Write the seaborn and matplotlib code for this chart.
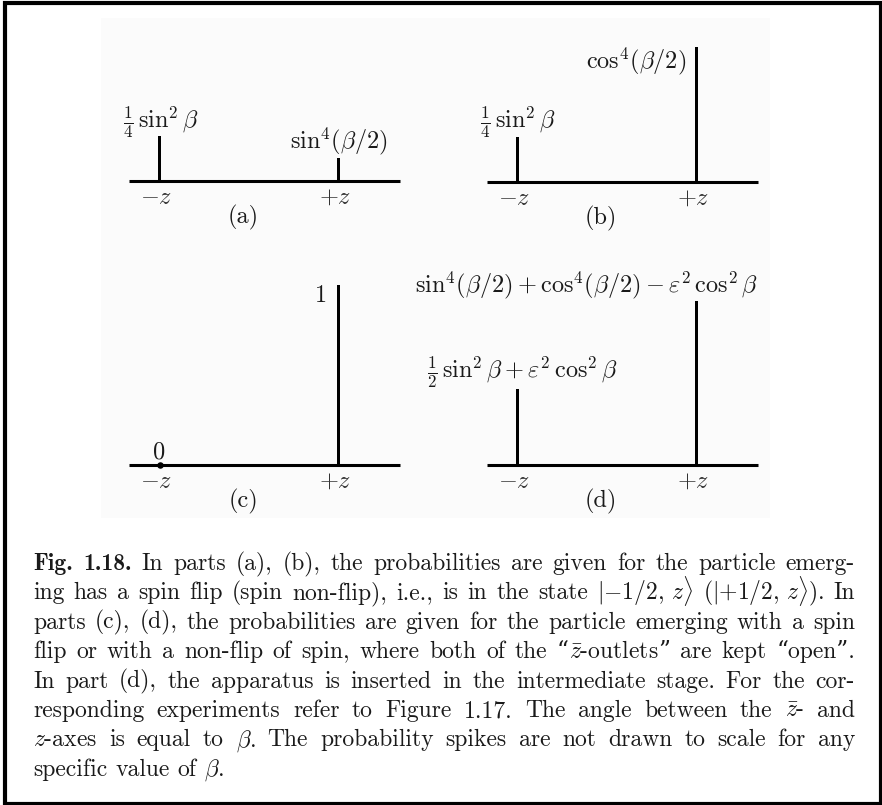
import matplotlib
matplotlib.use("Agg")
import matplotlib.pyplot as plt
import matplotlib.patches as mpatches
import matplotlib.transforms as mtransforms
import seaborn as sns
import pandas as pd

# ---- data -----------------------------------------------------------------
outlets = ["$-z$", "$+z$"]

spike_a = [0.25, 0.13]
spike_b = [0.25, 0.75]
spike_c = [0.0, 1.0]
spike_d = [0.42, 0.91]

labels_a = [r"$\frac{1}{4}\,\mathrm{sin}^2\,\beta$", r"$\mathrm{sin}^4(\beta/2)$"]
labels_b = [r"$\frac{1}{4}\,\mathrm{sin}^2\,\beta$", r"$\mathrm{cos}^4(\beta/2)$"]
labels_c = ["0", "1"]
labels_d = [r"$\frac{1}{2}\,\mathrm{sin}^2\,\beta+\varepsilon^2\,\mathrm{cos}^2\,\beta$",
            r"$\mathrm{sin}^4(\beta/2)+\mathrm{cos}^4(\beta/2)-\varepsilon^2\,\mathrm{cos}^2\,\beta$"]

panel_names = ["(a)", "(b)", "(c)", "(d)"]

# words are separated by spaces; "~" glues pieces of one word set in different fonts
caption_lines = [
    "Fig. 1.18. In parts (a), (b), the probabilities are given for the particle emerg-",
    r"ing has a spin flip (spin non-flip), i.e., is in the state $|{-1/2},\,z\rangle$ ($|{+1/2},\,z\rangle$). In",
    "parts (c), (d), the probabilities are given for the particle emerging with a spin",
    "flip or with a non-flip of spin, where both of the \u201c~$\\bar{z}$-outlets~\u201d are kept \u201copen\u201d.",
    "In part (d), the apparatus is inserted in the intermediate stage. For the cor-",
    r"responding experiments refer to Figure 1.17. The angle between the $\bar{z}$- and",
    r"$z$-axes is equal to $\beta$. The probability spikes are not drawn to scale for any",
    r"specific value of $\beta$.",
]
bold_tokens = 2  # "Fig. 1.18."

# ---- styling ----------------------------------------------------------------
sns.set_theme(style="white")
plt.rcParams["font.family"] = ["cmr10", "DejaVu Serif"]
plt.rcParams["mathtext.fontset"] = "cm"
plt.rcParams["axes.unicode_minus"] = False
plt.rcParams["axes.formatter.use_mathtext"] = True

W, H, DPI = 882, 805, 100
LABEL_FS = 17.5
CAP_FS = 17.0
LW = 2.2
INK = "#1a1a1a"

fig = plt.figure(figsize=(W / DPI, H / DPI), dpi=DPI)
fig.patch.set_facecolor("white")

# faint backdrop behind the diagrams and the outer frame
fig.patches.append(mpatches.Rectangle((101 / W, (H - 518) / H), 669 / W, 500 / H,
                                      transform=fig.transFigure, facecolor="#fbfbfb",
                                      edgecolor="none", zorder=-10))
fig.patches.append(mpatches.Rectangle((5 / W, (H - 803.5) / H), 876 / W, 800.5 / H,
                                      transform=fig.transFigure, facecolor="none",
                                      edgecolor="black", linewidth=3.0, zorder=10))

XLIM = (-0.173, 1.341)


def make_axes(left, baseline, width=271, height=180):
    ax = fig.add_axes([left / W, (H - baseline) / H, width / W, height / H])
    ax.patch.set_alpha(0)
    return ax


def stem_panel(ax, values, labels, name, placement):
    df = pd.DataFrame({"outlet": outlets, "prob": values})
    sns.barplot(data=df, x="outlet", y="prob", color="black", saturation=1,
                width=0.017, linewidth=0, errorbar=None, ax=ax)
    ax.set_xlim(*XLIM)
    ax.set_ylim(0, 1)
    ax.set_xlabel("")
    ax.set_ylabel("")
    ax.set_yticks([])
    for side in ("left", "right", "top"):
        ax.spines[side].set_visible(False)
    ax.spines["bottom"].set_linewidth(LW)
    ax.spines["bottom"].set_color("black")
    ax.spines["bottom"].set_capstyle("butt")
    ax.tick_params(axis="x", length=0, pad=4, labelsize=LABEL_FS, colors="#333333")
    shift = mtransforms.ScaledTranslation(-4 / DPI, 0, fig.dpi_scale_trans)
    for t in ax.get_xticklabels():
        t.set_transform(t.get_transform() + shift)
    for i, (val, lab) in enumerate(zip(values, labels)):
        ha, dx, dy, va = placement[i]
        if ha == "axright":
            ax.annotate(lab, xy=(1.0, val), xycoords=("axes fraction", "data"),
                        xytext=(0, dy), textcoords="offset pixels",
                        ha="right", va=va, fontsize=LABEL_FS, color=INK,
                        annotation_clip=False)
        else:
            ax.annotate(lab, xy=(i, val), xytext=(dx, dy), textcoords="offset pixels",
                        ha=ha, va=va, fontsize=LABEL_FS, color=INK,
                        annotation_clip=False)
    ax.annotate(name, xy=(0.464, 0), xytext=(0, -36), textcoords="offset pixels",
                ha="center", va="center", fontsize=LABEL_FS, color=INK,
                annotation_clip=False)


ax_a = make_axes(129, 181)
ax_b = make_axes(487, 182)
ax_c = make_axes(129, 465)
ax_d = make_axes(487, 465)

stem_panel(ax_a, spike_a, labels_a, panel_names[0],
           [("center", 1, 9, "baseline"), ("center", 0, 9, "baseline")])
stem_panel(ax_b, spike_b, labels_b, panel_names[1],
           [("center", 0, 10, "baseline"), ("right", -11, -21, "baseline")])
stem_panel(ax_c, spike_c, labels_c, panel_names[2],
           [("center", -1, 7, "baseline"), ("right", -12, -17, "baseline")])
stem_panel(ax_d, spike_d, labels_d, panel_names[3],
           [("center", 4, 12, "baseline"), ("axright", 0, 9, "baseline")])

# the "0" outlet of panel (c) is marked by a dot on the axis
sns.scatterplot(x=[0], y=[spike_c[0]], color="black", s=22, linewidth=0,
                ax=ax_c, clip_on=False, zorder=5)
ax_c.set_xlim(*XLIM)
ax_c.set_ylim(0, 1)

# ---- justified caption ----------------------------------------------------
renderer = fig.canvas.get_renderer()
LEFT, RIGHT = 33, 855
BASE0, STEP = 570, 29.4
space = CAP_FS * DPI / 72 * 0.333
for li, line in enumerate(caption_lines):
    words = line.split(" ")
    y = (H - (BASE0 + li * STEP)) / H
    groups = []
    for wi, word in enumerate(words):
        fam = ["cmb10", "DejaVu Serif"] if (li == 0 and wi < bold_tokens) else ["cmr10", "DejaVu Serif"]
        pieces = []
        for piece in word.split("~"):
            t = fig.text(0, y, piece, fontsize=CAP_FS, family=fam, va="baseline",
                         ha="left", color=INK)
            pieces.append((t, t.get_window_extent(renderer).width))
        groups.append(pieces)
    widths = [sum(w for _, w in g) for g in groups]
    if li < len(caption_lines) - 1:
        gap = (RIGHT - LEFT - sum(widths)) / (len(groups) - 1)
    else:
        gap = space
    x = LEFT
    for g, wsum in zip(groups, widths):
        xx = x
        for t, w in g:
            t.set_x(xx / W)
            xx += w
        x += wsum + gap

fig.savefig("out.png", dpi=DPI, facecolor="white")
